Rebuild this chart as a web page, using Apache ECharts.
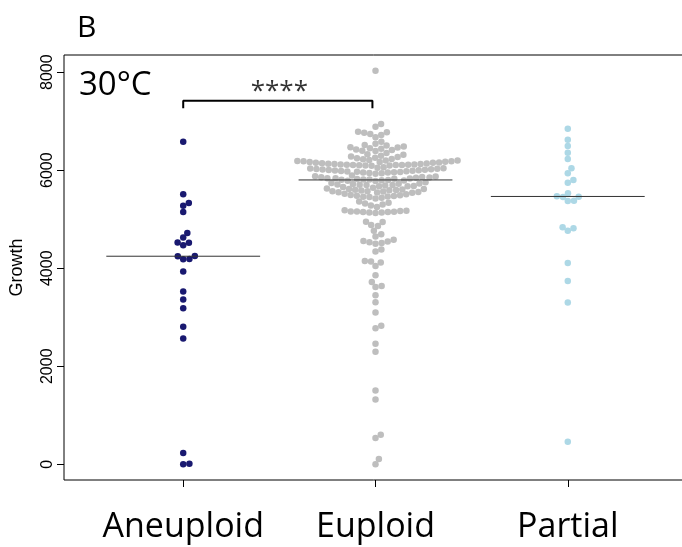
<!DOCTYPE html>
<html><head><meta charset="utf-8">
<script src="https://cdn.jsdelivr.net/npm/echarts@6/dist/echarts.min.js"></script>
<style>html,body{margin:0;padding:0;background:#fff}#c{width:682px;height:547px}</style>
</head><body><div id="c"></div>
<script>
const categories = ['Aneuploid', 'Euploid', 'Partial'];
const aneuploid = [6582, 5509, 5332, 5277, 5148, 4720, 4625, 4523, 4518, 4469, 4251, 4245, 4184, 4190, 3931, 3524, 3360, 3185, 2804, 2565, 228, 0, 12];
const euploid = [
  8030,
  6943, 6888,
  6786, 6773, 6765, 6739, 6718, 6671,
  6582, 6541, 6515, 6503, 6486, 6468, 6462, 6447, 6438, 6421, 6412, 6398, 6391,
  6352, 6327, 6314, 6293, 6281, 6268, 6252, 6244, 6231, 6222,
  6206, 6199, 6196, 6188, 6183, 6181, 6174, 6168, 6166, 6158, 6153, 6151, 6143, 6139, 6134, 6128, 6126, 6119, 6117, 6114, 6111, 6109, 6106, 6104, 6101, 6097, 6094, 6089,
  6062, 6048, 6041, 6036, 6029, 6027, 6019, 6014, 6011, 6004, 6001, 5993, 5991, 5984, 5979, 5976, 5969, 5966, 5958, 5953, 5951, 5944, 5939, 5928,
  5893, 5878, 5871, 5862, 5856, 5849, 5846, 5838, 5836, 5829, 5824, 5821, 5813, 5811, 5804, 5799, 5796, 5788, 5786, 5779,
  5752, 5741, 5731, 5724, 5719, 5708, 5706, 5699, 5696, 5688, 5679, 5674, 5671, 5658,
  5641, 5628, 5619, 5616, 5608, 5601, 5594, 5591, 5584, 5573, 5571, 5566, 5558, 5549, 5546, 5538,
  5522, 5508, 5496, 5489, 5479, 5476, 5466, 5458, 5451, 5439, 5424,
  5362, 5338, 5321, 5302, 5279, 5251,
  5182, 5171, 5166, 5159, 5156, 5151, 5147, 5146, 5139, 5136, 5128,
  4951, 4945, 4881, 4862,
  4767, 4693, 4645,
  4581, 4558, 4546, 4529, 4517, 4501,
  4380, 4339,
  4150, 4135, 4115, 4048,
  3858,
  3721, 3640, 3619,
  3450, 3307, 3095,
  2824, 2777,
  2457, 2294,
  1505, 1321,
  601, 534,
  106, 0
];
const partial = [6847, 6623, 6494, 6358, 6229, 6040, 5938, 5801, 5746, 5530, 5461, 5454, 5468, 5373, 5379, 4837, 4767, 4816, 4109, 3742, 3299, 459];
const groups = [aneuploid, euploid, partial];
const yTicks = [0, 2000, 4000, 6000, 8000];
const xTicks = [1, 2, 3];
const groupColors = ['#191970', '#bebebe', '#add8e6'];
const sigBracket = [[1, 7262], [1, 7417], [1.984, 7417], [1.984, 7262]];
const sigLabelPos = [1.5, 7600];
const sigLabel = '****';
const panelLabel = 'B';
const tempLabel = '30°C';

const chart = echarts.init(document.getElementById('c'), null, {renderer: 'canvas'});
const base = {
  animation: false,
  backgroundColor: '#fff',
  grid: {left: 64, top: 55, width: 623, height: 425, show: true, borderColor: '#000', borderWidth: 1, containLabel: false, outerBoundsMode: 'none'},
  title: [
    {text: panelLabel, left: 72, top: 8, textStyle: {fontFamily: 'Open Sans', fontWeight: 'normal', fontSize: 30, color: '#000'}},
    {text: tempLabel, left: 74, top: 64, textStyle: {fontFamily: 'Open Sans', fontWeight: 'normal', fontSize: 33, color: '#000'}}
  ],
  xAxis: {
    type: 'value', min: 0.38, max: 3.62,
    splitLine: {show: false},
    axisLine: {show: false, onZero: false},
    axisTick: {show: true, length: 7, customValues: xTicks, lineStyle: {color: '#000'}},
    axisLabel: {customValues: xTicks, formatter: v => categories[Math.round(v) - 1], fontFamily: 'Open Sans', fontSize: 34, color: '#000', margin: 30}
  },
  yAxis: {
    type: 'value', min: -321, max: 8351,
    name: 'Growth', nameLocation: 'middle', nameGap: 38, nameRotate: 90,
    nameTextStyle: {fontFamily: 'Liberation Sans', fontSize: 18, color: '#000'},
    splitLine: {show: false},
    axisLine: {show: false, onZero: false},
    axisTick: {show: true, length: 7, customValues: yTicks, lineStyle: {color: '#000'}},
    axisLabel: {customValues: yTicks, formatter: v => String(v), rotate: 90, fontFamily: 'Liberation Sans', fontSize: 16, color: '#000', margin: 8}
  },
  series: []
};
chart.setOption(base);

const p0 = chart.convertToPixel({gridIndex: 0}, [1, 0]);
const p1 = chart.convertToPixel({gridIndex: 0}, [2, 1000]);
const pxPerY = (p0[1] - p1[1]) / 1000;
const pxPerX = (p1[0] - p0[0]);
const D = 6.2;

function swarm(values) {
  const idx = values.map((v, i) => i).sort((a, b) => values[a] - values[b]);
  const placed = [];
  const out = new Array(values.length);
  for (const i of idx) {
    const y = values[i] * pxPerY;
    const cands = [0];
    for (const p of placed) {
      const dy = Math.abs(p.y - y);
      if (dy < D) { const dx = Math.sqrt(D * D - dy * dy); cands.push(p.x + dx, p.x - dx); }
    }
    let best = null;
    for (const c of cands) {
      let ok = true;
      for (const p of placed) {
        const dx = c - p.x, dy = y - p.y;
        if (dx * dx + dy * dy < D * D - 1e-6) { ok = false; break; }
      }
      if (ok && (best === null || Math.abs(c) < Math.abs(best) - 1e-9)) best = c;
    }
    placed.push({x: best, y});
    out[i] = best;
  }
  return out;
}
function median(a) {
  const s = a.slice().sort((x, y) => x - y);
  const n = s.length;
  return n % 2 ? s[(n - 1) / 2] : (s[n / 2 - 1] + s[n / 2]) / 2;
}

const series = [];
groups.forEach((vals, g) => {
  const off = swarm(vals);
  series.push({
    type: 'scatter', name: categories[g], symbol: 'circle', symbolSize: 6.5,
    itemStyle: {color: groupColors[g], opacity: 1},
    data: vals.map((v, i) => [xTicks[g] + off[i] / pxPerX, v]), z: 2
  });
});
groups.forEach((vals, g) => {
  const m = median(vals);
  series.push({
    type: 'line', symbol: 'none', silent: true,
    lineStyle: {color: '#333', width: 1},
    data: [[xTicks[g] - 0.4, m], [xTicks[g] + 0.4, m]], z: 5
  });
});
series.push({
  type: 'line', symbol: 'none', silent: true,
  lineStyle: {color: '#000', width: 2},
  data: sigBracket, z: 5
});
series.push({
  type: 'scatter', symbolSize: 0, silent: true,
  label: {show: true, position: 'inside', formatter: sigLabel, fontFamily: 'Open Sans', fontSize: 26, color: '#000'},
  data: [sigLabelPos]
});
chart.setOption({series});
</script></body></html>
